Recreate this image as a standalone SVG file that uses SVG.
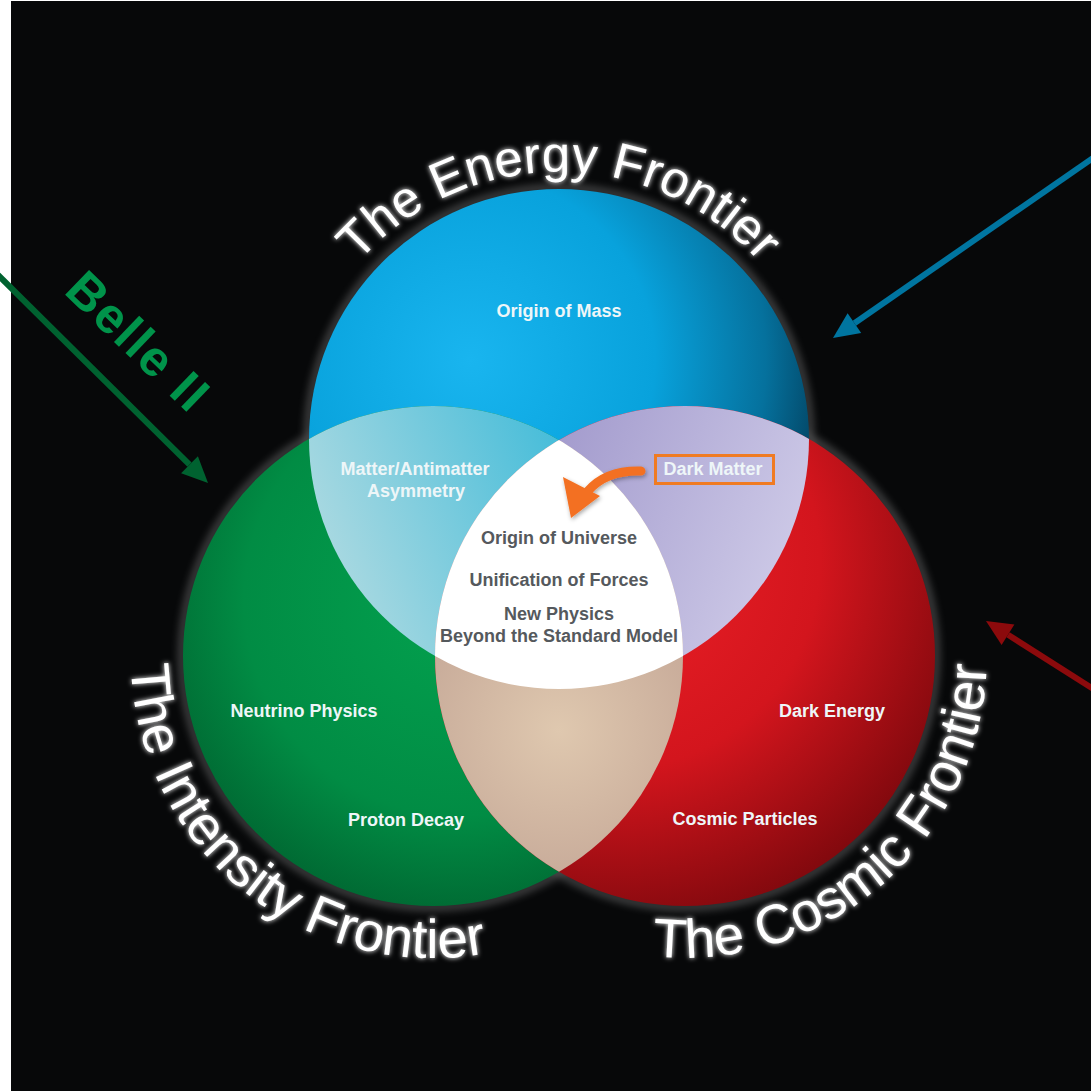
<svg xmlns="http://www.w3.org/2000/svg" width="1091" height="1091" viewBox="0 0 1091 1091">
  <style>
    .title { font-family: "Liberation Sans", Arial, sans-serif; fill: #ffffff; }
    .lbl { font-family: "Liberation Sans", Arial, sans-serif; font-weight: bold; font-size: 18px; text-anchor: middle; }
    .lbl-light { fill: #eef6f8; }
    .lbl-dark { fill: #55595d; }
  </style>
  <defs>
    <!-- circle fills -->
    <radialGradient id="gBlue" gradientUnits="userSpaceOnUse" cx="470" cy="360" r="370">
      <stop offset="0" stop-color="#19b5ef"/>
      <stop offset="0.5" stop-color="#08a2dc"/>
      <stop offset="0.8" stop-color="#05719d"/>
      <stop offset="1" stop-color="#023a56"/>
    </radialGradient>
    <radialGradient id="gGreen" gradientUnits="userSpaceOnUse" cx="460" cy="600" r="360">
      <stop offset="0" stop-color="#03a24f"/>
      <stop offset="0.6" stop-color="#018c44"/>
      <stop offset="1" stop-color="#005a2b"/>
    </radialGradient>
    <radialGradient id="gRed" gradientUnits="userSpaceOnUse" cx="610" cy="560" r="420">
      <stop offset="0" stop-color="#ee2128"/>
      <stop offset="0.5" stop-color="#d3151d"/>
      <stop offset="1" stop-color="#6a0509"/>
    </radialGradient>
    <!-- overlap fills -->
    <linearGradient id="gBG" gradientUnits="userSpaceOnUse" x1="310" y1="520" x2="560" y2="420">
      <stop offset="0" stop-color="#aad9e1"/>
      <stop offset="1" stop-color="#44bcd9"/>
    </linearGradient>
    <linearGradient id="gBR" gradientUnits="userSpaceOnUse" x1="560" y1="420" x2="810" y2="520">
      <stop offset="0" stop-color="#a39bcd"/>
      <stop offset="1" stop-color="#cdc9e7"/>
    </linearGradient>
    <radialGradient id="gGR" gradientUnits="userSpaceOnUse" cx="559" cy="730" r="160">
      <stop offset="0" stop-color="#dfc8af"/>
      <stop offset="1" stop-color="#c6a998"/>
    </radialGradient>

    <clipPath id="clipGreen"><circle cx="433" cy="656" r="250"/></clipPath>
    <clipPath id="clipRed"><circle cx="685" cy="656" r="250"/></clipPath>

    <filter id="halo" x="-20%" y="-20%" width="140%" height="140%">
      <feGaussianBlur stdDeviation="4"/>
    </filter>
    <filter id="glow" x="-10%" y="-10%" width="120%" height="120%">
      <feGaussianBlur in="SourceGraphic" stdDeviation="2.5" result="b"/>
      <feMerge>
        <feMergeNode in="b"/>
        <feMergeNode in="SourceGraphic"/>
      </feMerge>
    </filter>
    <filter id="shadow" x="-20%" y="-20%" width="140%" height="140%">
      <feDropShadow dx="1" dy="2" stdDeviation="2" flood-color="#000" flood-opacity="0.35"/>
    </filter>

    <!-- title baselines -->
    <path id="arcEnergy" d="M293,415.7 A267,267 0 0 1 825,415.7"/>
    <path id="arcIntensity" d="M182.6,487.1 A302,302 0 0 0 650.2,865.8"/>
    <path id="arcCosmic" d="M475.2,873.2 A302,302 0 0 0 929.3,478.5"/>
  </defs>

  <!-- canvas -->
  <rect x="0" y="0" width="1091" height="1091" fill="#ffffff"/>
  <rect x="11" y="1" width="1080" height="1090" fill="#070809"/>

  <!-- soft rims behind the circles -->
  <g id="rims" fill="none" stroke="#a0a0a0" stroke-width="6" opacity="0.5" filter="url(#halo)">
    <circle cx="559" cy="439" r="251"/>
    <circle cx="433" cy="656" r="251"/>
    <circle cx="685" cy="656" r="251"/>
  </g>

  <g id="energy-frontier">
    <circle cx="559" cy="439" r="250" fill="url(#gBlue)"/>
  </g>
  <g id="intensity-frontier">
    <circle cx="433" cy="656" r="250" fill="url(#gGreen)"/>
  </g>
  <g id="cosmic-frontier">
    <circle cx="685" cy="656" r="250" fill="url(#gRed)"/>
  </g>

  <g id="overlap-energy-intensity">
    <circle cx="559" cy="439" r="250" fill="url(#gBG)" clip-path="url(#clipGreen)"/>
  </g>
  <g id="overlap-energy-cosmic">
    <circle cx="559" cy="439" r="250" fill="url(#gBR)" clip-path="url(#clipRed)"/>
  </g>
  <g id="overlap-intensity-cosmic">
    <circle cx="433" cy="656" r="250" fill="url(#gGR)" clip-path="url(#clipRed)"/>
  </g>
  <g id="overlap-all" clip-path="url(#clipRed)">
    <circle cx="559" cy="439" r="250" fill="#ffffff" clip-path="url(#clipGreen)"/>
  </g>

  <!-- frontier titles, set word by word along each arc -->
  <g id="titles" class="title" filter="url(#glow)">
    <text font-size="51"><textPath href="#arcEnergy" startOffset="50%" text-anchor="middle">The Energy Frontier</textPath></text>
    <g font-size="55">
      <text><textPath href="#arcIntensity" startOffset="188.2">The</textPath></text>
      <text><textPath href="#arcIntensity" startOffset="298.3">Intensity</textPath></text>
      <text><textPath href="#arcIntensity" startOffset="518.4">Frontier</textPath></text>
      <text><textPath href="#arcCosmic" startOffset="198.9">The</textPath></text>
      <text><textPath href="#arcCosmic" startOffset="309">Cosmic</textPath></text>
      <text><textPath href="#arcCosmic" startOffset="507.6">Frontier</textPath></text>
    </g>
  </g>

  <!-- region labels -->
  <g id="labels" class="lbl">
    <text class="lbl-light" x="559" y="317">Origin of Mass</text>
    <text class="lbl-light" x="415" y="475">Matter/Antimatter</text>
    <text class="lbl-light" x="416" y="497">Asymmetry</text>
    <text class="lbl-light" x="713" y="475" fill="#eeecf7">Dark Matter</text>
    <text class="lbl-dark" x="559" y="544">Origin of Universe</text>
    <text class="lbl-dark" x="559" y="586">Unification of Forces</text>
    <text class="lbl-dark" x="559" y="620">New Physics</text>
    <text class="lbl-dark" x="559" y="642">Beyond the Standard Model</text>
    <text class="lbl-light" x="304" y="717">Neutrino Physics</text>
    <text class="lbl-light" x="406" y="826">Proton Decay</text>
    <text class="lbl-light" x="832" y="717">Dark Energy</text>
    <text class="lbl-light" x="745" y="825">Cosmic Particles</text>
  </g>

  <!-- highlight box -->
  <g id="dark-matter-box">
    <rect x="655.5" y="455.5" width="118" height="28" fill="none" stroke="#f07b22" stroke-width="3"/>
  </g>

  <!-- Belle II tag -->
  <g id="belle-label">
    <text transform="translate(139,341) rotate(44)" x="0" y="18" font-family="'Liberation Sans', Arial, sans-serif" font-weight="bold" font-size="50" fill="#00934a" text-anchor="middle" letter-spacing="2">Belle II</text>
  </g>

  <!-- arrows -->
  <g id="connectors">
    <g id="arrow-energy">
      <line x1="1093" y1="158" x2="854.4" y2="323.2" stroke="#0075a0" stroke-width="6"/>
      <polygon points="833,338 861.2,333.1 847.6,313.3" fill="#0075a0"/>
    </g>
    <g id="arrow-cosmic">
      <line x1="1093" y1="688.8" x2="1008" y2="634.8" stroke="#8c0a0c" stroke-width="6"/>
      <polygon points="986,621 1014.4,624.6 1001.6,645" fill="#8c0a0c"/>
    </g>
    <g id="arrow-belle">
      <line x1="-2" y1="275" x2="189.5" y2="464.7" stroke="#006230" stroke-width="6"/>
      <polygon points="208,483 181.1,473.2 197.9,456.2" fill="#006230"/>
    </g>
    <g id="arrow-dark-matter" filter="url(#shadow)">
      <path d="M641,471 Q606,470 588,491" fill="none" stroke="#f37021" stroke-width="9" stroke-linecap="round"/>
      <polygon points="571,518 563,477 600,496" fill="#f37021"/>
    </g>
  </g>
</svg>
